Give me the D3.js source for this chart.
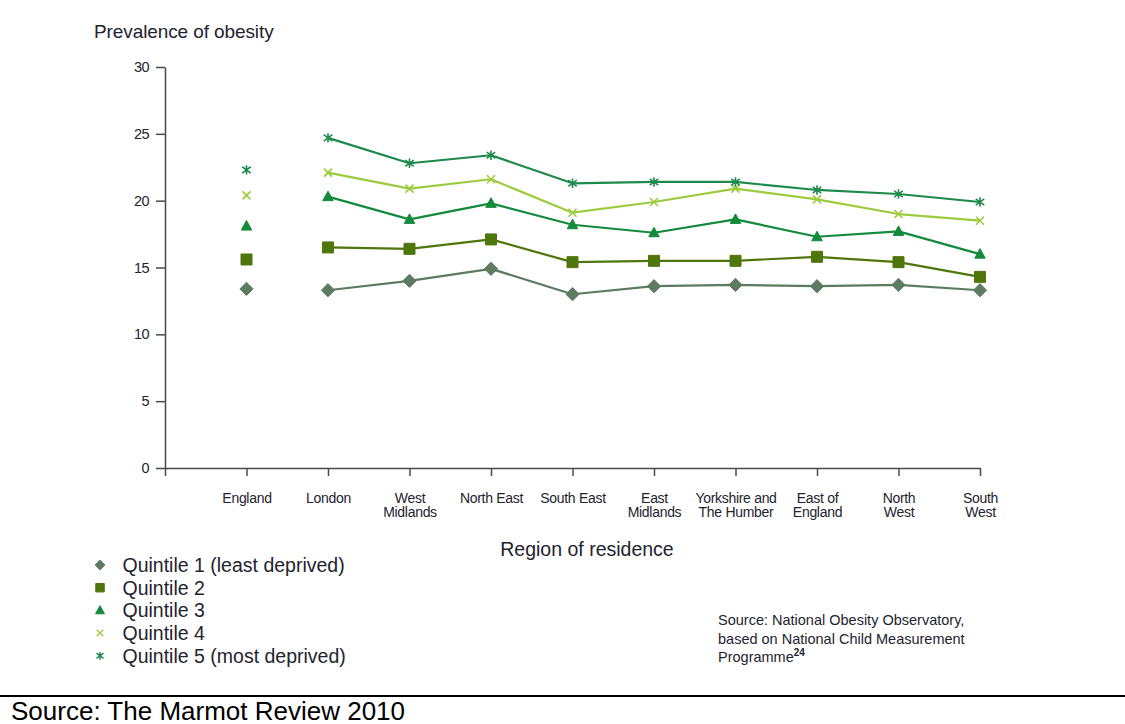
<!DOCTYPE html>
<html>
<head>
<meta charset="utf-8">
<script src="https://cdn.jsdelivr.net/npm/d3@7"></script>
<style>
  html, body { margin: 0; padding: 0; background: #fff; }
  svg { display: block; font-family: "Liberation Sans", Arial, sans-serif; }
</style>
</head>
<body>
<svg id="chart" width="1125" height="724"></svg>
<script>
// Regions (England is the national figure, shown unconnected)
const regions = ["England", "London", "West Midlands", "North East", "South East",
  "East Midlands", "Yorkshire and The Humber", "East of England", "North West", "South West"];
const regionLabels = [["England"], ["London"], ["West", "Midlands"], ["North East"], ["South East"],
  ["East", "Midlands"], ["Yorkshire and", "The Humber"], ["East of", "England"], ["North", "West"], ["South", "West"]];

// Prevalence of obesity (%) by deprivation quintile
const quintile1 = [13.4, 13.3, 14.0, 14.9, 13.0, 13.6, 13.7, 13.6, 13.7, 13.3];
const quintile2 = [15.6, 16.5, 16.4, 17.1, 15.4, 15.5, 15.5, 15.8, 15.4, 14.3];
const quintile3 = [18.1, 20.3, 18.6, 19.8, 18.2, 17.6, 18.6, 17.3, 17.7, 16.0];
const quintile4 = [20.4, 22.1, 20.9, 21.6, 19.1, 19.9, 20.9, 20.1, 19.0, 18.5];
const quintile5 = [22.3, 24.7, 22.8, 23.4, 21.3, 21.4, 21.4, 20.8, 20.5, 19.9];

const yTicks = [0, 5, 10, 15, 20, 25, 30];
const legendNames = ["Quintile 1 (least deprived)", "Quintile 2", "Quintile 3", "Quintile 4", "Quintile 5 (most deprived)"];

const series = [
  { name: legendNames[0], values: quintile1, color: "#5d7b60", shape: "diamond" },
  { name: legendNames[1], values: quintile2, color: "#4f760b", shape: "square" },
  { name: legendNames[2], values: quintile3, color: "#138a3c", shape: "triangle" },
  { name: legendNames[3], values: quintile4, color: "#9ccb3e", shape: "x" },
  { name: legendNames[4], values: quintile5, color: "#1d8a4b", shape: "asterisk" }
];

const svg = d3.select("#chart");
const textColor = "#23232e";
const axisColor = "#4a4a4a";

// Scales: a blank slot at the origin, then one point per region
const x = d3.scalePoint().domain(["", ...regions]).range([165, 980]);
const y = d3.scaleLinear().domain([0, 30]).range([468, 67]);

// Marker path builder
function markerPath(shape, s) {
  const h = s / 2;
  switch (shape) {
    case "diamond": return `M0,${-h*1.15}L${h*1.15},0L0,${h*1.15}L${-h*1.15},0Z`;
    case "square": return `M${-h},${-h}H${h}V${h}H${-h}Z`;
    case "triangle": return `M0,${-h*1.1}L${h*1.05},${h*0.8}L${-h*1.05},${h*0.8}Z`;
    case "x": return `M${-h},${-h}L${h},${h}M${-h},${h}L${h},${-h}`;
    case "asterisk": return `M0,${-h*1.1}V${h*1.1}M${-h},${-h*0.75}L${h},${h*0.75}M${-h},${h*0.75}L${h},${-h*0.75}`;
  }
}
const stroked = s => s === "x" || s === "asterisk";
const markerSize = { diamond: 11.5, square: 11, triangle: 10, x: 8, asterisk: 8.5 };

// Y axis
const yAxis = svg.append("g").attr("transform", "translate(165,0)")
  .call(d3.axisLeft(y).tickValues(yTicks).tickSize(9).tickPadding(7).tickSizeOuter(0));
yAxis.select(".domain").attr("stroke", axisColor).attr("stroke-width", 1.5);
yAxis.selectAll(".tick line").attr("stroke", axisColor).attr("stroke-width", 1.5);
yAxis.selectAll(".tick text").attr("fill", textColor).attr("font-size", 14.5)
  .attr("letter-spacing", -0.6)
  .attr("font-family", "Liberation Sans, Arial, sans-serif");

// X axis
const xAxis = svg.append("g").attr("transform", "translate(0,468)")
  .call(d3.axisBottom(x).tickSize(8).tickSizeOuter(0).tickFormat(""));
xAxis.select(".domain").attr("stroke", axisColor).attr("stroke-width", 1.5);
xAxis.selectAll(".tick line").attr("stroke", axisColor).attr("stroke-width", 1.5);
xAxis.selectAll(".tick").each(function(d) {
  const i = regions.indexOf(d);
  if (i < 0) return;
  const t = d3.select(this).append("text")
    .attr("fill", textColor).attr("font-size", 14).attr("text-anchor", "middle")
    .attr("letter-spacing", -0.3);
  regionLabels[i].forEach((line, k) => {
    t.append("tspan").attr("x", 0).attr("y", 34.5 + k * 14.8).text(line);
  });
});

// Lines (regions only; England stands alone)
const line = d3.line().x(d => x(d.r)).y(d => y(d.v));
const plot = svg.append("g");
series.forEach(s => {
  const pts = regions.map((r, i) => ({ r, v: s.values[i] }));
  plot.append("path").datum(pts.slice(1))
    .attr("d", line).attr("fill", "none")
    .attr("stroke", s.color).attr("stroke-width", 2.2).attr("stroke-linejoin", "round");
  plot.selectAll(null).data(pts).enter().append("path")
    .attr("transform", d => `translate(${x(d.r)},${y(d.v)})`)
    .attr("d", markerPath(s.shape, markerSize[s.shape]))
    .attr("fill", stroked(s.shape) ? "none" : s.color)
    .attr("stroke", s.color)
    .attr("stroke-width", stroked(s.shape) ? 1.6 : 1);
});

// Axis titles
svg.append("text").attr("x", 94).attr("y", 38).attr("fill", textColor)
  .attr("font-size", 19).attr("letter-spacing", -0.1).text("Prevalence of obesity");
svg.append("text").attr("x", 587).attr("y", 556).attr("text-anchor", "middle").attr("fill", textColor)
  .attr("font-size", 19.5).text("Region of residence");

// Legend
const legend = svg.append("g").attr("transform", "translate(100,565)");
series.forEach((s, i) => {
  const g = legend.append("g").attr("transform", `translate(0,${i * 22.7})`);
  const ls = { diamond: 8.5, square: 8.5, triangle: 8.5, x: 6.5, asterisk: 7 }[s.shape];
  g.append("path").attr("d", markerPath(s.shape, ls))
    .attr("fill", stroked(s.shape) ? "none" : s.color)
    .attr("stroke", s.color).attr("stroke-width", stroked(s.shape) ? 1.4 : 1);
  g.append("text").attr("x", 22.5).attr("y", 7).attr("fill", textColor)
    .attr("font-size", 19.5).text(s.name);
});

// Data source note
const note = svg.append("text").attr("fill", textColor).attr("font-size", 14.5);
note.append("tspan").attr("x", 718).attr("y", 625).text("Source: National Obesity Observatory,");
note.append("tspan").attr("x", 718).attr("y", 643.5).text("based on National Child Measurement");
note.append("tspan").attr("x", 718).attr("y", 662).text("Programme");
note.append("tspan").attr("dy", -6).attr("font-size", 10).attr("font-weight", "bold").text("24");

// Footer rule and caption
svg.append("line").attr("x1", 0).attr("x2", 1125).attr("y1", 696).attr("y2", 696)
  .attr("stroke", "#000").attr("stroke-width", 2);
svg.append("text").attr("x", 11).attr("y", 719.5).attr("fill", "#000")
  .attr("font-size", 26).attr("font-family", "Liberation Sans, Arial, sans-serif")
  .text("Source: The Marmot Review 2010");
</script>
</body>
</html>
